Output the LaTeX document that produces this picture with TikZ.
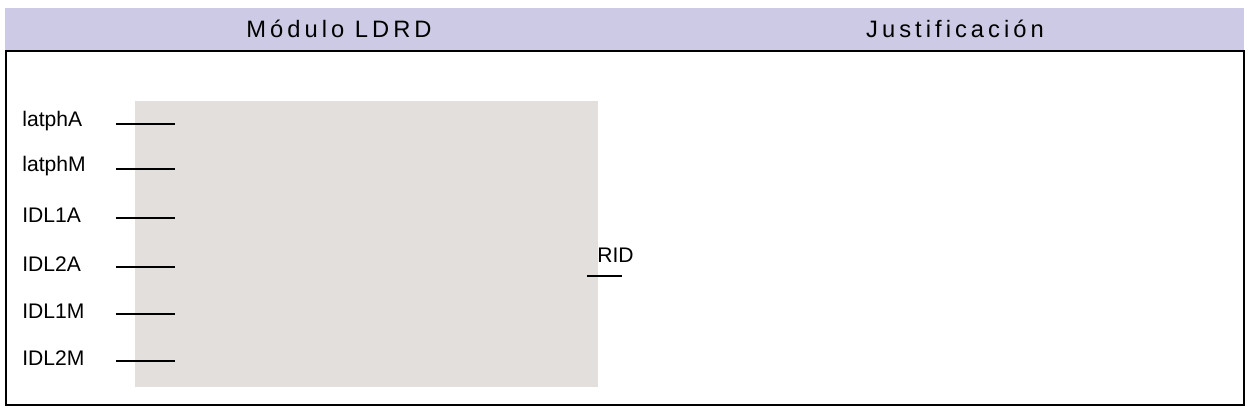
\documentclass[tikz,border=0pt]{standalone}
\usepackage{fontspec}
\setmainfont{Liberation Sans}
\newfontfamily\headfont[LetterSpace=17]{Liberation Sans}
\definecolor{headblue}{RGB}{204,202,228}
\definecolor{blockgray}{RGB}{227,223,220}
\begin{document}
\begin{tikzpicture}[x=0.02cm,y=-0.02cm,
        port/.style={anchor=west,inner sep=0pt,font=\fontsize{12}{14}\selectfont},
        head/.style={font=\headfont\fontsize{13.5}{16}\selectfont}]
    \useasboundingbox (0,0) rectangle (1251,419);
    % header and frame
    \fill[headblue] (5,8) rectangle (1244,51);
    \node[head] (mod) at (339,29) {Módulo LDRD};
    \node[head] (just) at (955,29) {Justificación};
    \draw[semithick] (6,51) rectangle (1244,405);
    % block
    \fill[blockgray] (135,101) rectangle (598,387) coordinate (blk);
    \foreach \name/\y in {latphA/121,latphM/166,IDL1A/215,IDL2A/264,IDL1M/311,IDL2M/358}{
        \node[port] (\name) at (22,\y) {\name};
        \coordinate (\name-a) at (116,\y+3);
        \coordinate (\name-b) at (175,\y+3);
        \draw[semithick] (\name-a) -- (\name-b);
    }
    \node[port] (rid) at (597,255) {RID};
    \coordinate (rid-a) at (587,276);
    \coordinate (rid-b) at (622,276);
    \draw[semithick] (rid-a) -- (rid-b);
\end{tikzpicture}
\end{document}
